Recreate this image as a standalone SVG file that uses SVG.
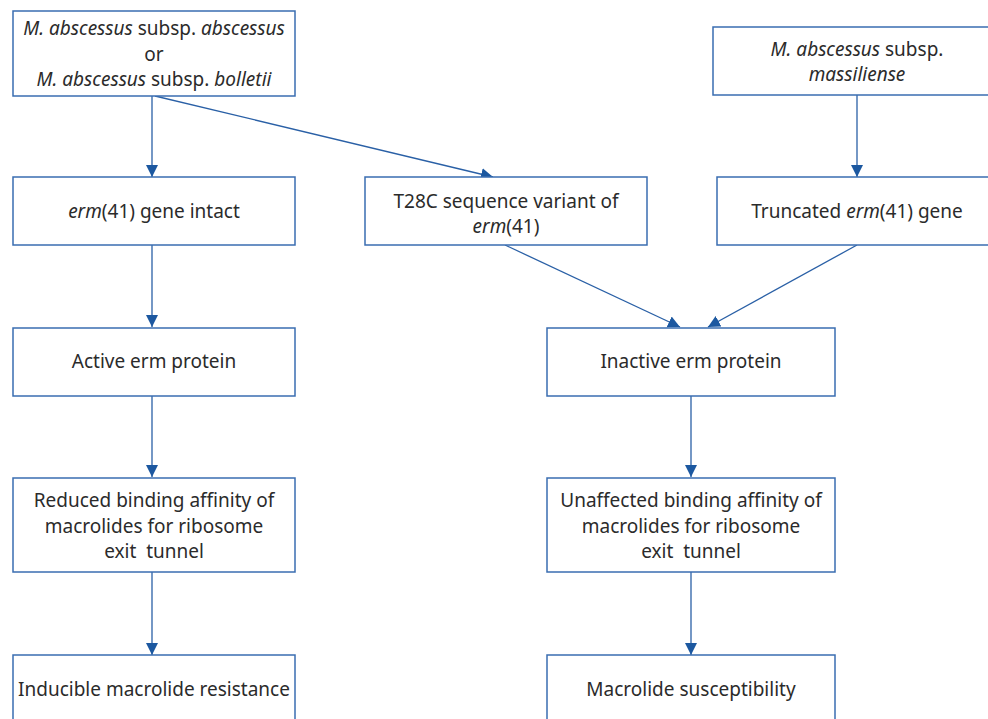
<svg xmlns="http://www.w3.org/2000/svg" width="988" height="719" viewBox="0 0 988 719">
<style>
.box{fill:#fff;stroke:#3a6db1;stroke-width:1.5}
.t{font-family:"Noto Sans","Open Sans",sans-serif;font-size:19px;fill:#2b2b2b;text-anchor:middle}
.i{font-style:italic}
.c{stroke:#2a60a6;stroke-width:1.3;fill:none}
</style>
<defs>
<marker id="ah" markerUnits="userSpaceOnUse" markerWidth="14" markerHeight="14" viewBox="0 0 14 14" refX="12" refY="7" orient="auto">
<path d="M0,1 L12,7 L0,13 Z" fill="#1c58a0"/>
</marker>
</defs>
<rect width="988" height="719" fill="#fff"/>
<g id="connectors">
<line class="c" x1="152" y1="96" x2="152" y2="177" marker-end="url(#ah)"/>
<line class="c" x1="155" y1="96" x2="493" y2="177" marker-end="url(#ah)"/>
<line class="c" x1="857" y1="95" x2="857" y2="177" marker-end="url(#ah)"/>
<line class="c" x1="152" y1="245" x2="152" y2="327" marker-end="url(#ah)"/>
<line class="c" x1="505" y1="245" x2="680" y2="327" marker-end="url(#ah)"/>
<line class="c" x1="857" y1="245" x2="708" y2="327" marker-end="url(#ah)"/>
<line class="c" x1="152" y1="396" x2="152" y2="477" marker-end="url(#ah)"/>
<line class="c" x1="691" y1="396" x2="691" y2="477" marker-end="url(#ah)"/>
<line class="c" x1="152" y1="572" x2="152" y2="655" marker-end="url(#ah)"/>
<line class="c" x1="691" y1="572" x2="691" y2="655" marker-end="url(#ah)"/>
</g>
<g id="node-abscessus-bolletii">
<rect class="box" x="13" y="11" width="282" height="85"/>
<text class="t" x="154" y="35"><tspan class="i">M. abscessus</tspan> subsp. <tspan class="i">abscessus</tspan></text>
<text class="t" x="154" y="60.5">or</text>
<text class="t" x="154" y="86"><tspan class="i">M. abscessus</tspan> subsp. <tspan class="i">bolletii</tspan></text>
</g>
<g id="node-massiliense">
<rect class="box" x="713" y="27" width="288" height="68"/>
<text class="t" x="857" y="56"><tspan class="i">M. abscessus</tspan> subsp.</text>
<text class="t i" x="857" y="81">massiliense</text>
</g>
<g id="node-erm-intact">
<rect class="box" x="13" y="177" width="282" height="68"/>
<text class="t" x="154" y="218"><tspan class="i">erm</tspan>(41) gene intact</text>
</g>
<g id="node-t28c">
<rect class="box" x="365" y="177" width="282" height="68"/>
<text class="t" x="506" y="208">T28C sequence variant of</text>
<text class="t" x="506" y="233"><tspan class="i">erm</tspan>(41)</text>
</g>
<g id="node-truncated">
<rect class="box" x="717" y="177" width="282" height="68"/>
<text class="t" x="857" y="218">Truncated <tspan class="i">erm</tspan>(41) gene</text>
</g>
<g id="node-active">
<rect class="box" x="13" y="328" width="282" height="68"/>
<text class="t" x="154" y="368">Active erm protein</text>
</g>
<g id="node-inactive">
<rect class="box" x="547" y="328" width="288" height="68"/>
<text class="t" x="691" y="368">Inactive erm protein</text>
</g>
<g id="node-reduced">
<rect class="box" x="13" y="478" width="282" height="94"/>
<text class="t" x="154" y="507">Reduced binding affinity of</text>
<text class="t" x="154" y="532.5">macrolides for ribosome</text>
<text class="t" x="154" y="558">exit&#160; tunnel</text>
</g>
<g id="node-unaffected">
<rect class="box" x="547" y="478" width="288" height="94"/>
<text class="t" x="691" y="507">Unaffected binding affinity of</text>
<text class="t" x="691" y="532.5">macrolides for ribosome</text>
<text class="t" x="691" y="558">exit&#160; tunnel</text>
</g>
<g id="node-inducible">
<rect class="box" x="13" y="655" width="282" height="80"/>
<text class="t" x="154" y="696">Inducible macrolide resistance</text>
</g>
<g id="node-susceptibility">
<rect class="box" x="547" y="655" width="288" height="80"/>
<text class="t" x="691" y="696">Macrolide susceptibility</text>
</g>
</svg>
